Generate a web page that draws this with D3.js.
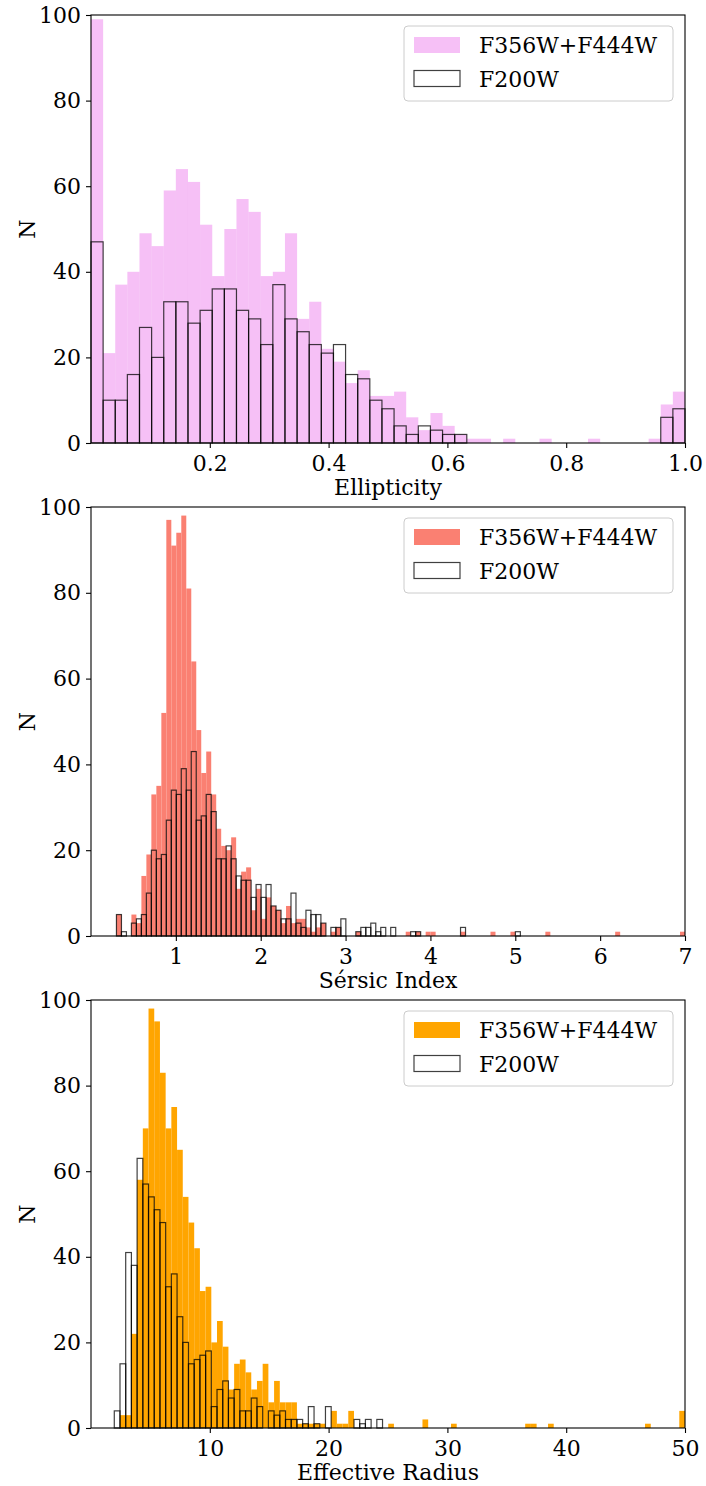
<!DOCTYPE html>
<html>
<head>
<meta charset="utf-8">
<script src="https://cdn.jsdelivr.net/npm/d3@7"></script>
<style>
  body { margin: 0; background: #fff; }
  text { font-family: "DejaVu Serif", serif; }
</style>
</head>
<body>
<div id="chart"></div>
<script>
// 1. Data: histogram counts, one array per series

const legendLabels = ["F356W+F444W", "F200W"];
const yTicks = [0, 20, 40, 60, 80, 100];

// Ellipticity
const ellipLong = [99,21,37,40,49,46,59,64,61,51,39,50,57,54,39,40,49,29,33,22,19,14,17,11,11,12,6,3,7,4,2,1,1,0,1,0,0,1,0,0,0,1,0,0,0,0,1,9,12];
const ellipShort = [47,10,10,16,27,20,33,33,28,31,36,36,31,29,23,37,29,26,23,21,23,16,15,10,8,4,2,4,3,2,2,0,0,0,0,0,0,0,0,0,0,0,0,0,0,0,0,6,8];
const ellipLongRange = [0, 1];
const ellipShortRange = [0, 1];
const ellipTicks = [0.2, 0.4, 0.6, 0.8, 1.0];

// Sersic index
const sersicLong = [5,0,0,5,3,14,19,33,35,52,97,91,94,98,81,64,48,38,43,33,25,21,20,23,11,15,16,6,11,4,9,7,6,3,7,3,4,4,2,1,2,3,0,1,2,0,0,0,1,0,0,0,0,0,0,0,0,0,1,0,1,0,1,1,0,0,0,0,0,1,0,0,0,0,0,1,0,0,0,1,0,0,0,0,0,0,1,0,0,0,0,0,0,0,0,0,0,0,0,0,1,0,0,0,0,0,0,0,0,0,0,0,0,1];
const sersicShort = [5,1,0,3,4,5,10,20,18,19,27,34,33,39,34,43,27,28,33,29,18,18,21,18,14,13,13,9,12,9,12,7,6,4,4,10,3,2,6,5,5,3,0,2,2,4,0,0,1,2,2,3,1,2,0,2,0,0,0,1,1,0,0,0,0,0,0,0,0,2,0,0,0,0,0,0,0,0,0,0,1];
const sersicLongRange = [0.30, 7.0];
const sersicShortRange = [0.30, 5.06];
const sersicTicks = [1, 2, 3, 4, 5, 6, 7];

// Effective radius
const reffLong = [0,3,3,22,58,70,98,95,83,70,75,65,54,48,42,32,33,20,25,19,9,15,16,13,9,11,15,6,11,6,6,6,1,1,1,1,1,0,4,1,1,4,0,0,0,0,0,0,1,0,0,0,0,0,2,0,0,0,0,1,0,0,0,0,0,0,0,0,0,0,0,0,1,1,0,0,1,0,0,0,0,0,0,0,0,0,0,0,0,0,0,0,0,1,0,0,0,0,0,4];
const reffShort = [4,15,41,38,63,57,54,51,48,33,36,26,20,15,16,17,18,5,9,11,7,9,4,4,7,5,0,4,3,4,2,2,2,1,5,1,0,5,0,0,0,0,2,1,2,0,2];
const reffLongRange = [1.96, 50.0];
const reffShortRange = [1.96, 24.54];
const reffTicks = [10, 20, 30, 40, 50];

// 2. Canvas

const width = 706;
const height = 1486;

const svg = d3.select("#chart")
    .append("svg")
    .attr("width", width)
    .attr("height", height);

const margin = { left: 91, right: 685 };

const panels = [
    { top: 15, bottom: 443, xDomain: [0, 1], ticks: ellipTicks, fmt: d3.format(".1f"),
      label: "Ellipticity", color: "violet", opacity: 0.5,
      long: ellipLong, longRange: ellipLongRange, short: ellipShort, shortRange: ellipShortRange },
    { top: 507, bottom: 936, xDomain: [0, 7], ticks: sersicTicks, fmt: d3.format("d"),
      label: "Sérsic Index", color: "salmon", opacity: 1,
      long: sersicLong, longRange: sersicLongRange, short: sersicShort, shortRange: sersicShortRange },
    { top: 1000, bottom: 1428, xDomain: [0, 50], ticks: reffTicks, fmt: d3.format("d"),
      label: "Effective Radius", color: "orange", opacity: 1,
      long: reffLong, longRange: reffLongRange, short: reffShort, shortRange: reffShortRange }
];

// turn a count array + range into bins
function toBins(counts, range) {
    const w = (range[1] - range[0]) / counts.length;
    return counts.map(function(c, i) {
        return { x0: range[0] + i * w, x1: range[0] + (i + 1) * w, n: c };
    });
}

// 3. Draw each panel

panels.forEach(function(p) {
    const g = svg.append("g");

    const xScale = d3.scaleLinear()
        .domain(p.xDomain)
        .range([margin.left, margin.right]);

    const yScale = d3.scaleLinear()
        .domain([0, 100])
        .range([p.bottom, p.top]);

    // filled histogram
    g.append("g").selectAll("rect")
        .data(toBins(p.long, p.longRange).filter(function(d) { return d.n > 0; }))
        .enter()
        .append("rect")
            .attr("x", function(d) { return xScale(d.x0); })
            .attr("y", function(d) { return yScale(d.n); })
            .attr("width", function(d) { return xScale(d.x1) - xScale(d.x0); })
            .attr("height", function(d) { return yScale(0) - yScale(d.n); })
            .attr("fill", p.color)
            .attr("fill-opacity", p.opacity);

    // outlined histogram
    g.append("g").selectAll("rect")
        .data(toBins(p.short, p.shortRange).filter(function(d) { return d.n > 0; }))
        .enter()
        .append("rect")
            .attr("x", function(d) { return xScale(d.x0); })
            .attr("y", function(d) { return yScale(d.n); })
            .attr("width", function(d) { return xScale(d.x1) - xScale(d.x0); })
            .attr("height", function(d) { return yScale(0) - yScale(d.n); })
            .attr("fill", "none")
            .attr("stroke", "#000")
            .attr("stroke-opacity", 0.75)
            .attr("stroke-width", 1.2);

    // axes
    const xAxis = g.append("g")
        .attr("transform", `translate(0,${p.bottom})`)
        .call(d3.axisBottom(xScale).tickValues(p.ticks).tickFormat(p.fmt)
            .tickSize(5).tickPadding(7));

    const yAxis = g.append("g")
        .attr("transform", `translate(${margin.left},0)`)
        .call(d3.axisLeft(yScale).tickValues(yTicks).tickSize(5).tickPadding(5));

    [xAxis, yAxis].forEach(function(a) {
        a.select(".domain").remove();
        a.selectAll("line").attr("stroke", "#000").attr("stroke-width", 1.1);
        a.selectAll("text")
            .attr("font-family", "DejaVu Serif")
            .attr("font-size", 22)
            .attr("fill", "#000");
    });

    // frame
    g.append("rect")
        .attr("x", margin.left)
        .attr("y", p.top)
        .attr("width", margin.right - margin.left)
        .attr("height", p.bottom - p.top)
        .attr("fill", "none")
        .attr("stroke", "#000")
        .attr("stroke-width", 1.1);

    // axis labels
    g.append("text")
        .attr("x", (margin.left + margin.right) / 2)
        .attr("y", p.bottom + 52)
        .attr("text-anchor", "middle")
        .attr("font-size", 22)
        .text(p.label);

    g.append("text")
        .attr("transform", "rotate(-90)")
        .attr("x", -(p.top + p.bottom) / 2)
        .attr("y", 35)
        .attr("text-anchor", "middle")
        .attr("font-size", 22)
        .text("N");

    // legend
    const lg = g.append("g").attr("transform", `translate(404,${p.top + 11})`);
    lg.append("rect")
        .attr("width", 269)
        .attr("height", 75)
        .attr("rx", 4)
        .attr("fill", "#fff")
        .attr("fill-opacity", 0.8)
        .attr("stroke", "#ccc");
    lg.append("rect")
        .attr("x", 10).attr("y", 11)
        .attr("width", 46).attr("height", 16)
        .attr("fill", p.color)
        .attr("fill-opacity", p.opacity);
    lg.append("rect")
        .attr("x", 10).attr("y", 44.5)
        .attr("width", 46).attr("height", 16)
        .attr("fill", "none")
        .attr("stroke", "#000")
        .attr("stroke-opacity", 0.75)
        .attr("stroke-width", 1.2);
    lg.selectAll("text.lab")
        .data(legendLabels)
        .enter()
        .append("text")
            .attr("class", "lab")
            .attr("x", 75)
            .attr("y", function(d, i) { return 27.3 + i * 33.4; })
            .attr("font-size", 22)
            .text(function(d) { return d; });
});
</script>
</body>
</html>
